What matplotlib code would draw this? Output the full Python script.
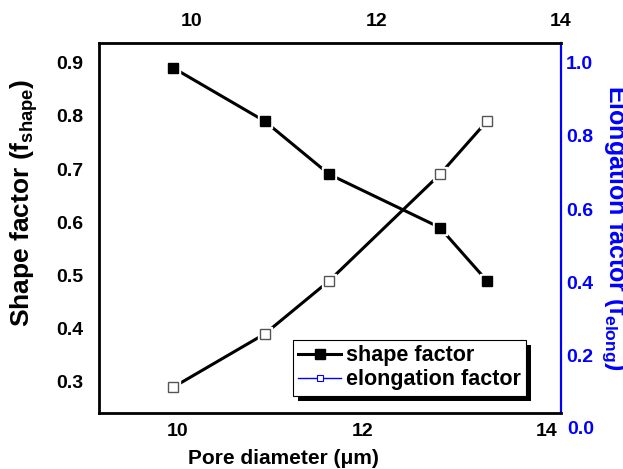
import matplotlib.pyplot as plt
import matplotlib.transforms as mtransforms
from matplotlib.lines import Line2D
from matplotlib.patches import Rectangle

plt.rcParams['font.family'] = 'Liberation Sans'
plt.rcParams['font.weight'] = 'bold'
plt.rcParams['mathtext.fontset'] = 'custom'
plt.rcParams['mathtext.rm'] = 'Liberation Sans:bold'
plt.rcParams['mathtext.default'] = 'regular'

# data
pore = [9.95, 10.94, 11.64, 12.84, 13.35]
shape = [0.89, 0.79, 0.69, 0.59, 0.49]
elong = [0.115, 0.26, 0.405, 0.695, 0.84]
xticks = [10, 12, 14]
elong_ticks = [0.2, 0.4, 0.6, 0.8, 1.0]
labels = ['shape factor', 'elongation factor']

fig = plt.figure(figsize=(6.23, 4.69), dpi=100)
ax = fig.add_axes([0.1594, 0.1188, 0.7411, 0.7902])
ax_top = ax.twiny()
ax_r = ax.twinx()

# shape factor (left axis)
ax.plot(pore, shape, color='black', lw=2.2, zorder=2)
ax.plot(pore, shape, ls='none', marker='s', ms=10, mfc='white', mec='white', zorder=3)
ax.plot(pore, shape, ls='none', marker='s', ms=7, mfc='black', mec='black', zorder=4)

# elongation factor (right axis)
ax_r.plot(pore, elong, color='black', lw=2.2, zorder=2)
ax_r.plot(pore, elong, ls='none', marker='s', ms=10, mfc='white', mec='white', zorder=3)
ax_r.plot(pore, elong, ls='none', marker='s', ms=7, mfc='white', mec='#555555', mew=1, zorder=4)

ax.set_xlim(9.146, 14.155)
ax.set_ylim(0.2406, 0.9376)
ax.set_xticks(xticks)
ax.set_yticks([0.3, 0.4, 0.5, 0.6, 0.7, 0.8, 0.9])
ax.tick_params(axis='x', length=0, labelsize=14, pad=7)
ax.tick_params(axis='y', length=0, labelsize=14, pad=11.5)

ax_top.set_xlim(9.0, 14.0)
ax_top.set_xticks(xticks)
ax_top.tick_params(axis='x', length=0, labelsize=14, pad=9)

ax_r.set_ylim(0.0436, 1.0545)
ax_r.set_yticks(elong_ticks)
ax_r.set_yticklabels(['%.1f' % v for v in elong_ticks])
ax_r.tick_params(axis='y', length=0, labelsize=14, pad=3.6, labelcolor='blue')
# 0.0 sits below the frame in the original
trans = mtransforms.blended_transform_factory(ax_r.transAxes, ax_r.transData)
ax_r.text(1.013, 0.0, '0.0', transform=trans, ha='left', va='center',
          color='blue', fontsize=14, fontweight='bold', clip_on=False)

for a in (ax_top, ax_r):
    for s in a.spines.values():
        s.set_visible(False)
for s in ('left', 'top', 'bottom'):
    ax.spines[s].set_linewidth(2.0)
    ax.spines[s].set_color('black')
ax.spines['right'].set_color('blue')
ax.spines['right'].set_linewidth(1.6)

ax.set_xlabel('Pore diameter (μm)', fontsize=15, fontweight='bold')
ax.xaxis.set_label_coords(0.398, -0.096)
ax.set_ylabel('Shape factor (f$_{shape}$)', fontsize=19, fontweight='bold')
ax.yaxis.set_label_coords(-0.128, 0.567)
ax_r.set_ylabel('Elongation factor (f$_{elong}$)', fontsize=18, fontweight='bold',
                color='blue', rotation=270, va='center')
ax_r.yaxis.set_label_coords(1.117, 0.5)

h1 = Line2D([], [], color='black', lw=2.2, marker='s', ms=7, mfc='black', mec='black')
h2 = Line2D([], [], color='blue', lw=1, marker='s', ms=5, mfc='white', mec='blue', mew=0.8)
leg = ax_r.legend([h1, h2], labels, loc='lower left', bbox_to_anchor=(0.419, 0.047),
                  borderaxespad=0, fancybox=False, edgecolor='black', framealpha=1,
                  prop={'size': 15.5, 'weight': 'bold'}, handlelength=2.0,
                  handletextpad=0.2, borderpad=0.25, labelspacing=0.15)
leg.get_frame().set_linewidth(0.8)

# solid black drop shadow behind the legend box
fig.canvas.draw()
bb = leg.get_window_extent()
shadow = Rectangle((bb.x0 + 5, bb.y0 - 5), bb.width, bb.height,
                   transform=mtransforms.IdentityTransform(),
                   facecolor='black', edgecolor='none', zorder=4.9, clip_on=False)
ax_r.add_patch(shadow)

fig.savefig('out.png', dpi=100)
